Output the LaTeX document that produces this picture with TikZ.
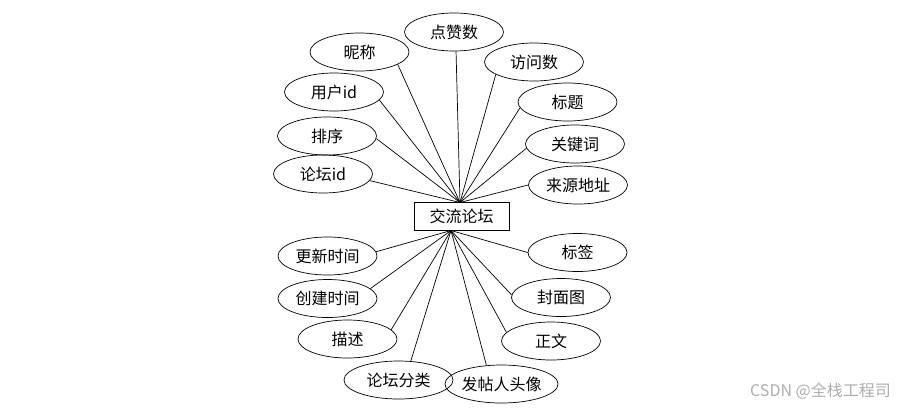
\documentclass[tikz,border=0pt]{standalone}
\usepackage{fontspec}
\setmainfont{Noto Sans CJK SC}
\usetikzlibrary{shapes.geometric}
\begin{document}
\begin{tikzpicture}[x=1pt,y=-1pt,
  attr/.style={ellipse, draw=black, line width=0.7pt, minimum width=99pt, minimum height=38pt, inner sep=0pt, font=\fontsize{16}{16}\selectfont},
  entity/.style={rectangle, draw=black, line width=0.7pt, minimum width=95pt, minimum height=28pt, inner sep=0pt, font=\fontsize{16}{16}\selectfont},
  conn/.style={line width=0.7pt, draw=black},
  wmtext/.style={text=black!32, font=\fontsize{16}{16}\selectfont}]
\useasboundingbox (0,0) rectangle (904,408);
\node[entity] (forum) at (461.5,216.5) {交流论坛};
\coordinate (ftop) at (460,202.5);
\coordinate (fbot) at (451,230.5);
% top attributes
\node[attr] (dz) at (454,32) {点赞数};
\node[attr] (nc) at (359.5,52) {昵称};
\node[attr] (fw) at (534,62) {访问数};
\node[attr] (uid) at (334,92) {用户id};
\node[attr] (bt) at (567.5,102) {标题};
\node[attr] (px) at (327,136) {排序};
\node[attr] (gj) at (575,144) {关键词};
\node[attr] (lid) at (323,174) {论坛id};
\node[attr] (ly) at (578,185) {来源地址};
% bottom attributes
\node[attr] (gx) at (327.5,256) {更新时间};
\node[attr] (bq) at (577.5,252.5) {标签};
\node[attr] (cj) at (327.5,298.5) {创建时间};
\node[attr] (fm) at (561,297.5) {封面图};
\node[attr] (ms) at (347.5,339) {描述};
\node[attr] (zw) at (551,341) {正文};
\node[attr, minimum width=109pt] (fl) at (398.5,380) {论坛分类};
\node[attr, minimum width=97pt] (tx) at (501.5,384) {发帖人头像};
% connectors top
\draw[conn] (ftop) -- (dz.-84);
\draw[conn] (ftop) -- (nc.-18);
\draw[conn] (ftop) -- (fw.-162);
\draw[conn] (ftop) -- (uid.-10);
\draw[conn] (ftop) -- (bt.-173);
\draw[conn] (ftop) -- (px.-3);
\draw[conn] (ftop) -- (gj.-175);
\draw[conn] (ftop) -- (lid.-8);
\draw[conn] (ftop) -- (ly.180);
% connectors bottom
\draw[conn] (fbot) -- (gx.5);
\draw[conn] (fbot) -- (cj.13);
\draw[conn] (fbot) -- (ms.12);
\draw[conn] (fbot) -- (fl.57);
\draw[conn] (fbot) -- (tx.129);
\draw[conn] (fbot) -- (zw.169);
\draw[conn] (fbot) -- (fm.177);
\draw[conn] (fbot) -- (bq.180);
% watermark
\node[wmtext] (wm) at (820.5,391) {CSDN @全栈工程司};
\end{tikzpicture}
\end{document}
